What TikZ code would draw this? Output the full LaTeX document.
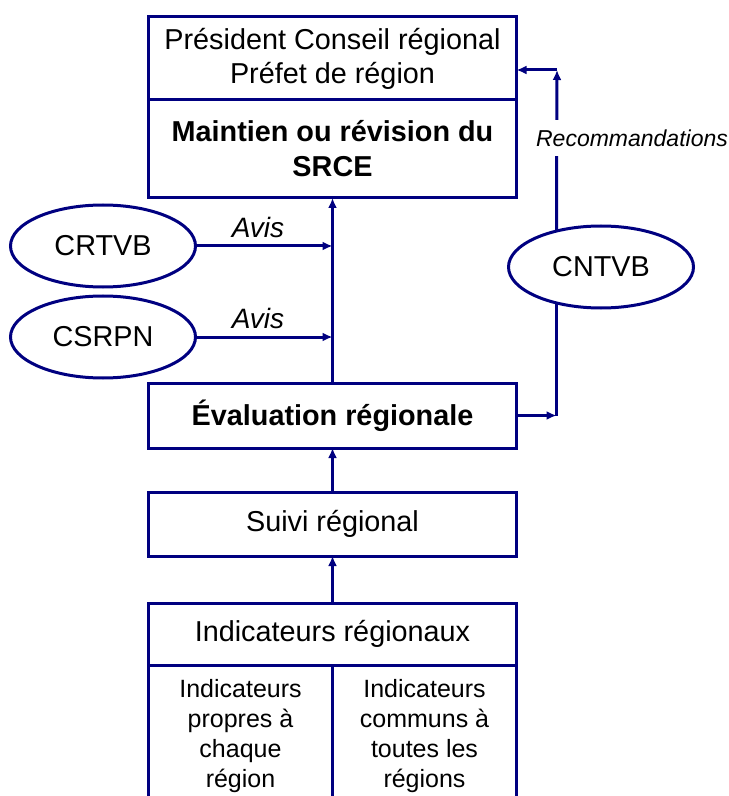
\documentclass[tikz,border=0pt]{standalone}
\usepackage{fontspec}
\setmainfont{Liberation Sans}
\usetikzlibrary{shapes.geometric,arrows.meta,positioning}
\definecolor{marine}{RGB}{0,0,128}

\begin{document}
\begin{tikzpicture}[x=0.5pt,y=-0.5pt,
  cadre/.style={draw=marine,line width=1.5pt,rectangle,minimum width=184pt,align=center,inner sep=0pt,outer sep=0pt,font=\fontsize{14.4}{17}\selectfont},
  case/.style={draw=marine,line width=1.5pt,rectangle,minimum width=92pt,minimum height=71pt,align=center,inner sep=0pt,outer sep=0pt,font=\fontsize{12.5}{15}\selectfont},
  bulle/.style={draw=marine,line width=1.5pt,ellipse,minimum width=92.5pt,minimum height=41pt,inner sep=0pt,font=\fontsize{14.4}{17}\selectfont},
  fleche/.style={draw=marine,line width=1.5pt,-{Latex[length=5pt,width=4.5pt]}},
  trait/.style={draw=marine,line width=1.5pt},
  avis/.style={font=\fontsize{14}{16}\selectfont\itshape}]

\useasboundingbox (0,0) rectangle (728,796);
\clip (0,0) rectangle (728,796);

% Boites centrales
\node[cadre,minimum height=41.5pt] (prefet) at (332.5,58.5) {Président Conseil régional\\Préfet de région};
\node[cadre,minimum height=49pt,font=\fontsize{14.4}{17.5}\selectfont\bfseries,below=0pt of prefet] (srce) {Maintien ou révision du\\SRCE};
\node[cadre,minimum height=32.5pt,font=\fontsize{14.4}{17}\selectfont\bfseries] (eval) at (332.5,415.5) {Évaluation régionale};
\node[cadre,minimum height=32pt] (suivi) at (332.5,524) {Suivi régional};
\node[cadre,minimum height=31pt] (indic) at (332.5,634) {Indicateurs régionaux};
\node[case,anchor=north east] (propres) at (indic.south) {Indicateurs\\propres à\\chaque\\région};
\node[case,anchor=north west] (communs) at (indic.south) {Indicateurs\\communs à\\toutes les\\régions};

% Comites
\node[bulle] (crtvb) at (103,246) {CRTVB};
\node[bulle] (csrpn) at (103,337) {CSRPN};
\node[bulle] (cntvb) at (601,267) {CNTVB};

% Fleches verticales
\draw[fleche] (indic) -- (suivi);
\draw[fleche] (suivi) -- (eval);
\draw[fleche] (eval) -- (srce);

% Avis
\draw[fleche] (crtvb) -- node[avis,above,pos=0.45] (avis1) {Avis} (crtvb -| eval.north);
\draw[fleche] (csrpn) -- node[avis,above,pos=0.45] (avis2) {Avis} (csrpn -| eval.north);

% Boucle nationale
\path (eval.east) ++(40,0) coordinate (bas);
\coordinate (haut) at (557,70);
\draw[fleche] (eval.east) -- (bas);
\draw[trait] (bas) -- (bas |- cntvb.219);
\draw[fleche] (bas |- cntvb.141) -- (haut);
\draw[fleche] (haut) -- (haut -| prefet.east);
\node[avis,font=\fontsize{11.5}{14}\selectfont\itshape,fill=white,inner xsep=1pt,inner ysep=5pt] (reco) at (632,138) {Recommandations};

\end{tikzpicture}
\end{document}
